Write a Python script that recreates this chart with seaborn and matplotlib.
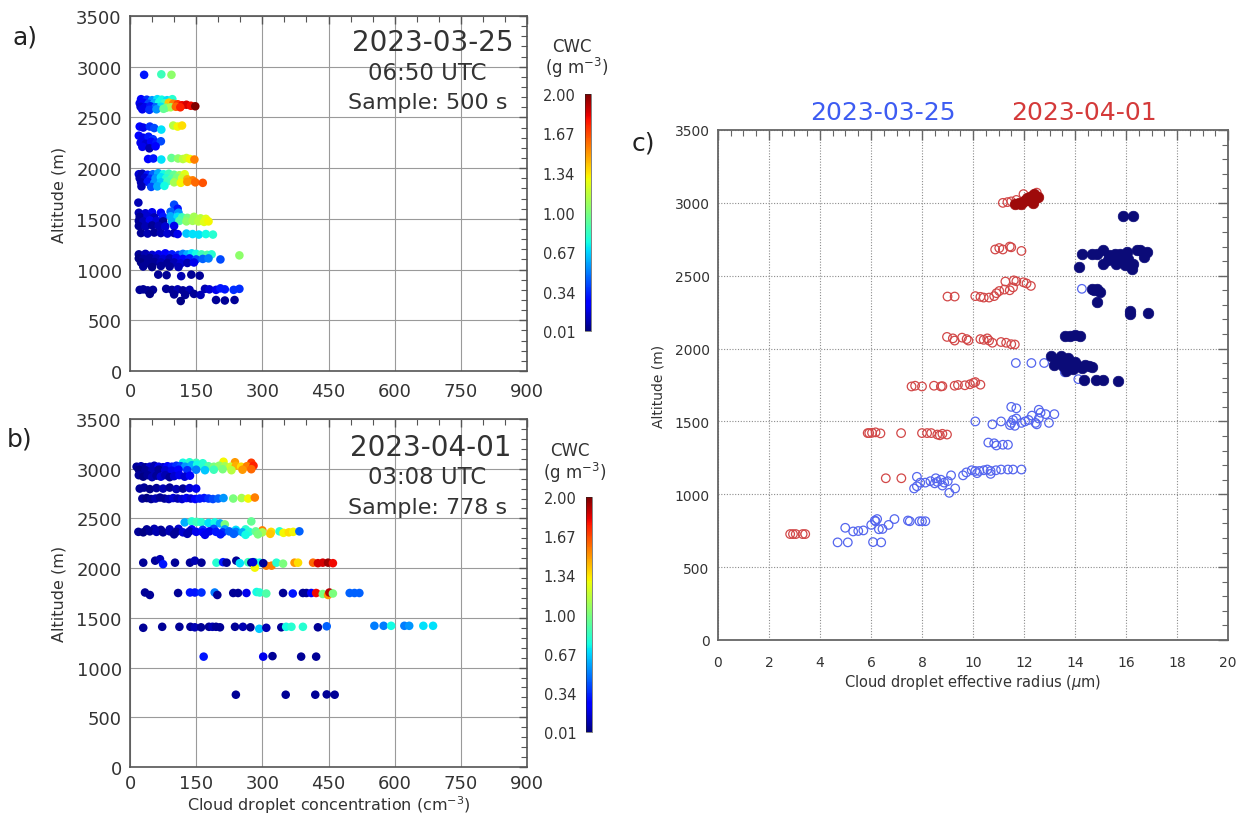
import numpy as np
import pandas as pd
import seaborn as sns
import matplotlib
matplotlib.use("Agg")
import matplotlib.pyplot as plt
from matplotlib.ticker import MultipleLocator
from matplotlib.colors import Normalize
from matplotlib.cm import ScalarMappable

# ---------------- panel a : 2023-03-25 (concentration, altitude, CWC) ----------------
a_conc = [
    32, 71, 94,
    25, 38, 50, 62, 72, 84, 96,
    22, 30, 42, 55, 66, 78, 88, 98, 108, 118, 128, 138, 148,
    24, 34, 46, 58, 70, 82, 92, 104, 114,
    28, 44, 60, 76,
    22, 30, 45, 55, 71, 98, 108, 118,
    20, 30, 42, 52, 24, 36, 48, 60, 70, 28, 44, 58,
    41, 53, 71, 94, 109, 120, 128, 136, 146,
    20, 28, 40, 52, 64, 76, 88, 100, 112, 124,
    22, 34, 46, 58, 70, 82, 94, 106, 118, 130, 142,
    25, 40, 55, 70, 85, 100, 115, 130, 148, 165,
    26, 48, 62, 78,
    19, 100, 108,
    20, 35, 50, 70, 92, 110,
    22, 40, 55, 75, 92, 108, 118, 130, 145, 160, 172,
    20, 30, 45, 60, 75, 95, 112, 128, 142, 155, 168, 178,
    20, 35, 50, 65, 80, 100,
    25, 40, 55, 70, 85, 100, 108, 128, 142, 156, 172, 188,
    20, 35, 50, 65, 80, 95, 110, 120, 130, 140, 150, 162, 175, 185, 248,
    20, 30, 45, 60, 75, 90, 105, 120, 135, 150, 165, 178, 205,
    25, 40, 55, 70, 85, 100, 115, 130, 145,
    30, 50, 70, 90, 110,
    64, 83, 116, 139, 158,
    22, 30, 40, 52, 82, 95, 108, 120, 135, 170, 180, 195, 205, 215, 235, 248,
    45, 100, 125, 145, 160,
    115, 195, 215, 237,
]
a_alt = [
    2920, 2925, 2920,
    2680, 2675, 2670, 2680, 2675, 2670, 2680,
    2640, 2645, 2635, 2640, 2650, 2640, 2645, 2635, 2630, 2620, 2625, 2615, 2610,
    2605, 2600, 2610, 2600, 2605, 2595, 2600, 2605, 2600,
    2580, 2575, 2580, 2585,
    2410, 2400, 2410, 2395, 2380, 2420, 2410, 2420,
    2320, 2300, 2310, 2285, 2250, 2240, 2260, 2250, 2265, 2210, 2195, 2215,
    2090, 2095, 2085, 2100, 2095, 2090, 2100, 2090, 2085,
    1940, 1945, 1935, 1940, 1950, 1940, 1945, 1935, 1930, 1940,
    1900, 1905, 1895, 1900, 1910, 1900, 1895, 1905, 1900, 1890, 1880,
    1860, 1865, 1855, 1860, 1870, 1860, 1855, 1865, 1860, 1855,
    1820, 1815, 1820, 1825,
    1660, 1640, 1600,
    1560, 1555, 1565, 1560, 1570, 1560,
    1520, 1525, 1515, 1520, 1525, 1520, 1515, 1510, 1520, 1505, 1500,
    1480, 1475, 1485, 1480, 1475, 1470, 1480, 1475, 1480, 1475, 1470, 1475,
    1430, 1425, 1435, 1430, 1425, 1430,
    1360, 1355, 1365, 1360, 1355, 1360, 1350, 1355, 1350, 1345, 1350, 1345,
    1150, 1155, 1145, 1150, 1160, 1150, 1145, 1155, 1150, 1160, 1155, 1150, 1145, 1150, 1140,
    1110, 1105, 1115, 1110, 1105, 1110, 1115, 1105, 1110, 1100, 1105, 1110, 1100,
    1070, 1065, 1075, 1070, 1065, 1070, 1060, 1065, 1070,
    1030, 1025, 1035, 1030, 1025,
    950, 945, 935, 950, 940,
    800, 805, 795, 800, 810, 800, 805, 795, 800, 810, 805, 800, 815, 805, 800, 810,
    760, 755, 750, 760, 750,
    690, 700, 695, 700,
]
a_cwc = [
    0.30, 0.85, 1.05,
    0.25, 0.35, 0.55, 0.70, 0.75, 0.70, 0.80,
    0.20, 0.25, 0.40, 0.60, 0.75, 0.85, 1.40, 1.55, 1.70, 1.80, 1.85, 1.80, 2.00,
    0.15, 0.20, 0.30, 0.45, 0.70, 1.00, 1.10, 1.60, 1.75,
    0.20, 0.35, 0.55, 0.95,
    0.25, 0.20, 0.35, 0.40, 0.70, 1.15, 1.30, 1.35,
    0.25, 0.20, 0.30, 0.35, 0.20, 0.15, 0.25, 0.30, 0.40, 0.20, 0.10, 0.25,
    0.25, 0.30, 0.70, 0.95, 1.05, 1.15, 1.20, 1.30, 1.55,
    0.15, 0.10, 0.30, 0.45, 0.60, 0.75, 0.85, 0.95, 1.10, 1.25,
    0.10, 0.15, 0.35, 0.55, 0.70, 0.80, 0.90, 1.00, 1.20, 1.45, 1.55,
    0.10, 0.30, 0.55, 0.65, 0.85, 1.10, 1.30, 1.50, 1.60, 1.65,
    0.10, 0.40, 0.60, 0.75,
    0.10, 0.40, 0.30,
    0.10, 0.15, 0.20, 0.25, 0.45, 0.55,
    0.05, 0.15, 0.10, 0.30, 0.60, 0.70, 0.85, 1.00, 1.10, 1.15, 1.25,
    0.05, 0.10, 0.20, 0.15, 0.05, 0.60, 0.90, 1.05, 1.10, 1.15, 1.25, 1.30,
    0.05, 0.10, 0.05, 0.10, 0.15, 0.20,
    0.05, 0.10, 0.05, 0.10, 0.15, 0.10, 0.20, 0.65, 0.70, 0.70, 0.75, 0.80,
    0.05, 0.10, 0.15, 0.20, 0.25, 0.30, 0.35, 0.50, 0.60, 0.70, 0.75, 0.85, 0.90, 0.80, 1.05,
    0.02, 0.05, 0.05, 0.10, 0.15, 0.10, 0.20, 0.25, 0.30, 0.40, 0.45, 0.50, 0.40,
    0.02, 0.05, 0.05, 0.10, 0.05, 0.10, 0.15, 0.10, 0.20,
    0.05, 0.02, 0.05, 0.05, 0.10,
    0.05, 0.05, 0.10, 0.05, 0.05,
    0.05, 0.05, 0.05, 0.05, 0.05, 0.05, 0.10, 0.05, 0.10, 0.10, 0.15, 0.20, 0.30, 0.30, 0.35, 0.35,
    0.02, 0.05, 0.05, 0.05, 0.10,
    0.02, 0.05, 0.05, 0.05,
]

# ---------------- panel b : 2023-04-01 ----------------
b_conc = [
    120, 135, 150, 165, 212, 238, 275,
    15, 25, 35, 45, 55, 65, 75, 85, 95, 105, 115, 125, 140, 152, 165, 178, 190, 202, 215, 228, 240, 252, 265, 280,
    20, 35, 50, 65, 80, 95, 110, 130, 150, 170, 190, 210, 230, 255, 275,
    20, 30, 40, 50, 60, 70, 80, 90, 100, 112, 124, 136,
    22, 32, 45, 60, 75, 90, 105, 120, 135, 150,
    28, 38, 48, 58, 68, 78, 88, 98, 108, 118, 128, 138, 148, 158, 168, 178, 188, 200, 212, 234, 253, 268, 283,
    124, 140, 151, 162, 178, 192, 204, 215, 275,
    38, 55, 70, 90, 110, 140, 165, 190, 215, 240, 262, 300,
    19, 30, 45, 60, 75, 90, 105, 120, 135, 150, 165, 180, 195, 210, 225, 240, 255, 270, 285, 300, 320, 339, 348, 360, 370, 384,
    100, 130, 170, 205, 235, 262, 290, 318,
    30, 57, 68, 75, 102, 136, 147, 162, 196, 211, 219, 241, 249, 268, 275, 283, 294, 283, 309, 321, 332, 347, 373, 381, 415, 426, 437, 449, 460, 302, 279,
    34, 45, 109, 136, 147, 162, 192, 198, 234, 245, 264, 287, 294, 309, 347, 369, 392, 400, 411, 422, 437, 449, 452, 460, 498, 509, 520,
    30, 73, 112, 137, 147, 161, 179, 187, 195, 204, 238, 256, 273, 293, 309, 343, 354, 366, 392, 426, 446, 554, 575, 592, 622, 633, 665, 687,
    167, 302, 323, 388, 422,
    240, 353, 420, 446, 464,
]
b_alt = [
    3060, 3065, 3060, 3055, 3070, 3065, 3060,
    3020, 3025, 3015, 3020, 3030, 3020, 3015, 3025, 3020, 3030, 3025, 3020, 3035, 3040, 3030, 3025, 3020, 3030, 3025, 3020, 3030, 3020, 3025, 3030,
    2990, 2985, 2980, 2990, 2985, 2980, 2990, 2985, 2990, 2985, 2990, 2995, 2985, 2990, 2995,
    2935, 2920, 2935, 2915, 2930, 2920, 2935, 2915, 2925, 2935, 2920, 2930,
    2800, 2810, 2795, 2805, 2800, 2810, 2795, 2800, 2805, 2800,
    2700, 2705, 2695, 2700, 2710, 2700, 2695, 2705, 2700, 2695, 2705, 2700, 2695, 2700, 2705, 2700, 2695, 2700, 2705, 2700, 2705, 2700, 2710,
    2460, 2470, 2465, 2460, 2455, 2460, 2450, 2440, 2470,
    2390, 2395, 2385, 2390, 2395, 2390, 2385, 2395, 2390, 2385, 2390, 2380,
    2365, 2360, 2370, 2365, 2360, 2370, 2365, 2360, 2370, 2365, 2360, 2370, 2365, 2360, 2370, 2365, 2360, 2365, 2370, 2360, 2365, 2370, 2355, 2360, 2365, 2370,
    2340, 2345, 2335, 2340, 2345, 2335, 2340, 2345,
    2055, 2075, 2090, 2040, 2055, 2055, 2075, 2055, 2055, 2060, 2055, 2075, 2050, 2060, 2055, 2060, 2055, 2005, 2025, 2025, 2055, 2045, 2055, 2055, 2055, 2050, 2055, 2055, 2050, 2050, 2060,
    1755, 1730, 1750, 1755, 1755, 1755, 1755, 1730, 1750, 1750, 1750, 1760, 1755, 1745, 1750, 1745, 1750, 1750, 1750, 1750, 1740, 1730, 1755, 1745, 1750, 1750, 1750,
    1400, 1410, 1410, 1410, 1405, 1405, 1410, 1410, 1410, 1405, 1410, 1410, 1405, 1390, 1400, 1405, 1410, 1410, 1410, 1405, 1415, 1420, 1420, 1420, 1420, 1420, 1420, 1420,
    1110, 1110, 1115, 1110, 1110,
    727, 727, 727, 730, 727,
]
b_cwc = [
    0.75, 0.80, 0.85, 0.80, 1.30, 1.50, 1.70,
    0.05, 0.10, 0.05, 0.15, 0.10, 0.20, 0.15, 0.25, 0.30, 0.35, 0.40, 0.55, 0.60, 0.75, 0.80, 0.90, 1.00, 1.05, 1.10, 1.20, 1.45, 1.35, 1.55, 1.75,
    0.02, 0.05, 0.10, 0.05, 0.15, 0.20, 0.25, 0.35, 0.50, 0.65, 0.85, 1.00, 1.15, 1.50, 1.60,
    0.05, 0.02, 0.05, 0.10, 0.05, 0.15, 0.10, 0.05, 0.15, 0.20, 0.15, 0.25,
    0.05, 0.05, 0.02, 0.05, 0.10, 0.05, 0.10, 0.05, 0.15, 0.20,
    0.05, 0.02, 0.05, 0.10, 0.05, 0.05, 0.10, 0.15, 0.10, 0.15, 0.20, 0.15, 0.25, 0.30, 0.30, 0.35, 0.40, 0.45, 0.55, 1.00, 1.10, 1.30, 1.55,
    0.60, 0.80, 0.85, 0.80, 0.70, 0.75, 0.60, 1.00, 0.95,
    0.05, 0.10, 0.05, 0.10, 0.15, 0.25, 0.35, 0.40, 0.55, 0.70, 0.80, 1.55,
    0.05, 0.02, 0.05, 0.10, 0.05, 0.10, 0.05, 0.15, 0.10, 0.20, 0.25, 0.20, 0.30, 0.35, 0.45, 0.50, 0.60, 0.80, 0.95, 1.10, 1.35, 0.80, 1.30, 1.35, 1.30, 0.45,
    0.05, 0.10, 0.20, 0.30, 0.45, 0.75, 1.00, 1.40,
    0.05, 0.05, 0.10, 0.30, 0.05, 0.05, 0.10, 0.05, 0.80, 0.30, 0.05, 0.05, 0.70, 0.85, 0.05, 0.85, 0.75, 1.30, 1.55, 1.55, 0.80, 1.00, 1.50, 1.35, 1.60, 1.85, 1.85, 1.95, 1.80, 0.05, 0.15,
    0.05, 0.05, 0.05, 0.30, 0.30, 0.35, 0.50, 0.05, 0.05, 0.05, 0.20, 0.75, 0.80, 0.90, 0.05, 0.30, 0.05, 0.05, 0.25, 1.80, 1.00, 1.50, 1.90, 1.00, 0.45, 0.45, 0.45,
    0.05, 0.05, 0.05, 0.05, 0.10, 0.05, 0.05, 0.10, 0.05, 0.05, 0.05, 0.10, 0.05, 0.65, 0.10, 0.05, 0.75, 0.80, 0.80, 0.05, 0.45, 0.50, 0.50, 0.75, 0.50, 0.55, 0.70, 0.70,
    0.30, 0.20, 0.05, 0.05, 0.05,
    0.05, 0.05, 0.05, 0.05, 0.05,
]

# ---------------- panel c : effective radius vs altitude ----------------
c_red_open_r = [11.17, 11.50, 11.98, 12.50, 11.35, 11.70,
                10.87, 11.03, 11.17, 11.44, 11.50, 11.90,
                11.27, 11.60, 11.70, 11.98, 12.10, 12.27,
                10.09, 10.29, 10.42, 10.63, 10.83, 10.92, 11.03, 11.23, 11.44, 11.57, 9.00, 9.28,
                8.98, 9.21, 9.28, 9.57, 9.75, 9.82, 10.29, 10.42, 10.56, 10.63, 10.76, 11.10, 11.30, 11.50, 11.64,
                7.59, 7.73, 8.00, 8.47, 8.74, 8.80, 9.28, 9.41, 9.68, 9.88, 10.02, 10.09, 10.29,
                5.87, 5.93, 6.04, 6.18, 6.37, 7.18, 8.00, 8.20, 8.36, 8.60, 8.70, 8.80, 8.98,
                6.58, 7.19,
                2.83, 2.94, 3.05, 3.32, 3.42]
c_red_open_z = [3000, 3010, 3060, 3070, 3005, 3020,
                2680, 2690, 2680, 2700, 2695, 2670,
                2460, 2468, 2462, 2455, 2447, 2430,
                2360, 2355, 2350, 2350, 2360, 2380, 2395, 2405, 2400, 2420, 2357, 2357,
                2080, 2070, 2055, 2075, 2065, 2055, 2065, 2060, 2070, 2055, 2040, 2045, 2040, 2030, 2028,
                1740, 1745, 1740, 1745, 1740, 1742, 1745, 1750, 1748, 1755, 1765, 1770, 1752,
                1420, 1420, 1422, 1425, 1418, 1420, 1420, 1420, 1420, 1410, 1405, 1415, 1410,
                1110, 1110,
                727, 727, 727, 727, 727]
c_blue_open_r = [4.69, 5.09, 6.08, 6.40,
                 4.99, 5.30, 5.50, 5.70, 6.01, 6.18, 6.31, 6.45, 6.69, 6.92,
                 6.15, 6.24, 7.45, 7.52, 7.90, 8.00, 8.13,
                 7.69, 7.80, 7.93, 8.13, 8.33, 8.54, 8.60, 8.74, 8.87, 9.01, 9.07, 9.14, 9.30, 7.80, 8.50, 8.80,
                 9.61, 9.74, 9.95, 10.09, 10.25, 10.42, 10.56, 10.69, 10.90, 11.10, 11.37, 11.57, 11.90, 10.16, 10.69,
                 10.60, 10.83, 10.92, 11.17, 11.37,
                 10.09, 10.76, 11.10, 11.50, 11.57, 11.64, 11.70, 11.90, 12.04, 12.18, 12.31, 12.45, 12.58, 12.65,
                 12.85, 12.98, 13.19, 11.50, 11.70, 12.58, 11.45, 12.50,
                 11.68, 12.29, 12.79, 13.60, 14.13,
                 14.27]
c_blue_open_z = [670, 670, 672, 670,
                 770, 745, 748, 752, 790, 815, 760, 762, 790, 830,
                 820, 830, 820, 815, 815, 815, 815,
                 1040, 1055, 1080, 1080, 1090, 1110, 1085, 1100, 1080, 1090, 1010, 1130, 1040, 1120, 1075, 1060,
                 1130, 1150, 1165, 1160, 1160, 1165, 1170, 1160, 1165, 1170, 1170, 1170, 1170, 1145, 1140,
                 1355, 1350, 1335, 1340, 1340,
                 1500, 1480, 1500, 1490, 1510, 1470, 1520, 1490, 1500, 1510, 1540, 1490, 1520, 1560,
                 1550, 1490, 1550, 1600, 1590, 1580, 1475, 1480,
                 1901, 1901, 1901, 1837, 1790,
                 2410]
c_red_fill_r = [11.65, 11.80, 12.00, 12.10, 12.20, 12.30, 12.40, 12.45, 12.55, 12.35, 11.90, 12.25]
c_red_fill_z = [2990, 3000, 3010, 3030, 3020, 3050, 3060, 3035, 3040, 3000, 2995, 3040]
c_blue_fill_r = [15.89, 16.29,
                 14.27, 14.17, 14.67, 14.87, 15.08, 15.08, 15.35, 15.48, 15.62, 15.75, 15.82, 15.95, 16.09,
                 16.22, 16.29, 16.43, 16.56, 16.70, 16.83, 15.28, 15.55, 16.02,
                 14.65, 14.87, 14.97, 14.87, 14.74,
                 16.16, 16.16, 16.86,
                 13.59, 13.80, 14.00, 14.20,
                 13.05, 13.19, 13.46, 13.53, 13.73, 13.80, 13.93, 14.00, 14.13, 14.27, 14.40, 14.54, 14.67,
                 14.37, 14.81, 15.08, 15.69, 13.32, 13.66]
c_blue_fill_z = [2910, 2910,
                 2647, 2560, 2647, 2647, 2674, 2582, 2640, 2617, 2582, 2651, 2605, 2571, 2617,
                 2548, 2582, 2674, 2679, 2628, 2663, 2605, 2651, 2663,
                 2410, 2410, 2387, 2323, 2399,
                 2261, 2234, 2243,
                 2085, 2089, 2096, 2085,
                 1949, 1890, 1949, 1883, 1935, 1894, 1860, 1906, 1883, 1867, 1890, 1883, 1876,
                 1784, 1784, 1784, 1775, 1917, 1848]

cb_ticks = [0.01, 0.34, 0.67, 1.00, 1.34, 1.67, 2.00]
cb_ticklabels = ["0.01", "0.34", "0.67", "1.00", "1.34", "1.67", "2.00"]
ab_xticks = [0, 150, 300, 450, 600, 750, 900]
alt_ticks = [0, 500, 1000, 1500, 2000, 2500, 3000, 3500]
c_xticks = [0, 2, 4, 6, 8, 10, 12, 14, 16, 18, 20]

assert len(a_conc) == len(a_alt) == len(a_cwc)
assert len(b_conc) == len(b_alt) == len(b_cwc)
assert len(c_red_open_r) == len(c_red_open_z)
assert len(c_blue_open_r) == len(c_blue_open_z)
assert len(c_red_fill_r) == len(c_red_fill_z)
assert len(c_blue_fill_r) == len(c_blue_fill_z)

# ---------------- figure ----------------
sns.set_style("white")
plt.rcParams["font.family"] = ["DejaVu Sans"]
W, H = 1240, 820
fig = plt.figure(figsize=(W / 100, H / 100), dpi=100)
fig.patch.set_facecolor("white")

JET = matplotlib.colormaps["jet"]


def px_axes(l, t, r, b):
    return fig.add_axes([l / W, 1 - b / H, (r - l) / W, (b - t) / H])


def ftext(x, y, s, **kw):
    kw.setdefault("color", "#333333")
    return fig.text(x / W, 1 - y / H, s, **kw)


norm = Normalize(vmin=0.01, vmax=2.0)
TXT = "#333333"


def style_ab(ax, xpad):
    ax.set_xlim(0, 900)
    ax.set_ylim(0, 3500)
    ax.set_xticks(ab_xticks)
    ax.set_yticks(alt_ticks)
    ax.xaxis.set_minor_locator(MultipleLocator(50))
    ax.yaxis.set_minor_locator(MultipleLocator(100))
    ax.tick_params(which="both", direction="in", top=True, right=True,
                   color="#555555", labelcolor=TXT, labelsize=13)
    ax.tick_params(axis="x", which="both", pad=xpad)
    ax.tick_params(axis="y", which="both", pad=6)
    ax.tick_params(which="major", length=6, width=1.0)
    ax.tick_params(which="minor", length=4, width=0.8)
    ax.grid(True, which="major", color="#9a9a9a", lw=0.8)
    ax.set_axisbelow(True)
    for s in ax.spines.values():
        s.set_color("#555555")
        s.set_linewidth(1.2)
    ax.set_xlabel("")
    ax.set_ylabel("Altitude (m)", fontsize=11.5, color=TXT)
    ax.yaxis.set_label_coords(-0.16, 0.5)


def cwc_panel(ax, conc, alt, cwc, xpad):
    df = pd.DataFrame({"conc": conc, "alt": alt, "cwc": cwc})
    sns.scatterplot(data=df, x="conc", y="alt", hue="cwc", palette=JET,
                    hue_norm=norm, s=38, linewidth=0, legend=False,
                    ax=ax, zorder=3)
    style_ab(ax, xpad)


def colorbar(l, t, r, b):
    cax = px_axes(l, t, r, b)
    cb = fig.colorbar(ScalarMappable(norm=norm, cmap=JET), cax=cax, ticks=cb_ticks)
    cb.set_ticklabels(cb_ticklabels)
    cax.yaxis.set_ticks_position("left")
    cax.tick_params(length=0, pad=7, labelsize=10.5, labelcolor=TXT)
    cb.outline.set_linewidth(0.4)
    return cb


# panel a
axa = px_axes(130, 17, 527, 372)
cwc_panel(axa, a_conc, a_alt, a_cwc, 8)
ftext(513, 43, "2023-03-25", ha="right", va="center", fontsize=20)
ftext(427, 73, "06:50 UTC", ha="center", va="center", fontsize=16.5)
ftext(428, 103, "Sample: 500 s", ha="center", va="center", fontsize=16)
colorbar(585, 95, 591, 332)
ftext(572, 47, "CWC", ha="center", va="center", fontsize=12)
ftext(577, 68, r"(g m$^{-3}$)", ha="center", va="center", fontsize=12)

# panel b
axb = px_axes(130, 420, 527, 768)
cwc_panel(axb, b_conc, b_alt, b_cwc, 5)
axb.set_xlabel(r"Cloud droplet concentration (cm$^{-3}$)", fontsize=11.5, color=TXT)
axb.xaxis.set_label_coords(0.5, -0.077)
ftext(512, 448, "2023-04-01", ha="right", va="center", fontsize=20)
ftext(427, 478, "03:08 UTC", ha="center", va="center", fontsize=16.5)
ftext(428, 508, "Sample: 778 s", ha="center", va="center", fontsize=16)
colorbar(586, 498, 592, 733)
ftext(570, 451, "CWC", ha="center", va="center", fontsize=12)
ftext(575, 473, r"(g m$^{-3}$)", ha="center", va="center", fontsize=12)

# panel c
axc = px_axes(718, 131, 1228, 641)


def open_circles(ax, xs, ys, col):
    sns.scatterplot(x=xs, y=ys, ax=ax, s=38, color=col, linewidth=0.9,
                    legend=False, zorder=3)
    coll = ax.collections[-1]
    coll.set_facecolor("none")
    coll.set_edgecolor(col)


def filled_circles(ax, xs, ys, col):
    sns.scatterplot(x=xs, y=ys, ax=ax, s=58, color=col, edgecolor=col,
                    linewidth=0.5, legend=False, zorder=4)


open_circles(axc, c_red_open_r, c_red_open_z, "#d24848")
open_circles(axc, c_blue_open_r, c_blue_open_z, "#5566ee")
filled_circles(axc, c_red_fill_r, c_red_fill_z, "#9e0a0a")
filled_circles(axc, c_blue_fill_r, c_blue_fill_z, "#0b0b78")

axc.set_xlim(0, 20)
axc.set_ylim(0, 3500)
axc.set_xticks(c_xticks)
axc.set_yticks(alt_ticks)
axc.xaxis.set_minor_locator(MultipleLocator(0.5))
axc.yaxis.set_minor_locator(MultipleLocator(100))
axc.tick_params(which="both", direction="in", top=True, right=True,
                color="#666666", labelcolor=TXT, labelsize=10)
axc.tick_params(axis="x", which="both", pad=11)
axc.tick_params(axis="y", which="both", pad=6)
axc.tick_params(which="major", length=7, width=1.0)
axc.tick_params(which="minor", length=4, width=0.8)
axc.grid(True, which="major", color="#8c8c8c", lw=0.8, ls=(0, (1, 1.5)))
axc.set_axisbelow(True)
for s in axc.spines.values():
    s.set_color("#666666")
    s.set_linewidth(1.3)
axc.set_xlabel(r"Cloud droplet effective radius ($\mu$m)", fontsize=10.5, color=TXT)
axc.xaxis.set_label_coords(0.5, -0.063)
axc.set_ylabel("Altitude (m)", fontsize=10, color=TXT)
axc.yaxis.set_label_coords(-0.102, 0.5)

ftext(883, 113, "2023-03-25", ha="center", va="center", fontsize=18, color="#3d5cf2")
ftext(1084, 113, "2023-04-01", ha="center", va="center", fontsize=18, color="#d43a3a")

# panel letters
ftext(25, 37, "a)", ha="center", va="center", fontsize=18, color="#222222")
ftext(20, 440, "b)", ha="center", va="center", fontsize=18, color="#222222")
ftext(643, 144, "c)", ha="center", va="center", fontsize=18, color="#222222")

fig.savefig("out.png", dpi=100, facecolor="white")
